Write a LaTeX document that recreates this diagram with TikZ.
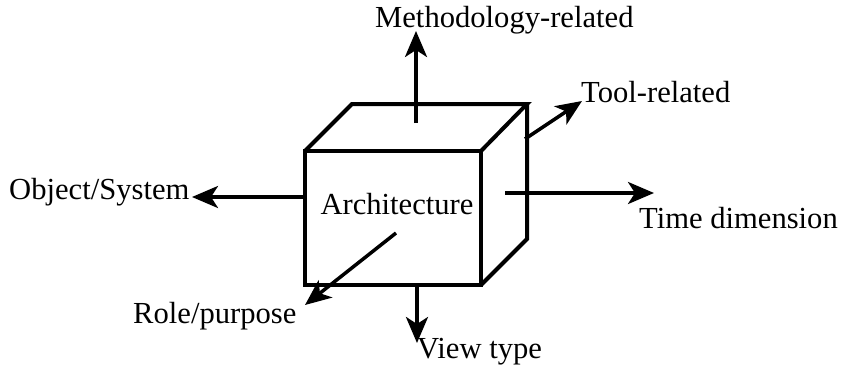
\documentclass[tikz,border=0pt]{standalone}
\usepackage{fontspec}
\setmainfont{Liberation Serif}
\usetikzlibrary{arrows.meta}
\begin{document}
\begin{tikzpicture}[x=1pt,y=-1pt,
  cube/.style={line width=4pt,line join=miter},
  axis/.style={line width=3.5pt,-{Stealth[length=26pt,width=22pt,inset=7pt]}},
  lbl/.style={inner sep=0pt,font=\fontsize{30.6}{36}\selectfont}]
\useasboundingbox (0,0) rectangle (843,375);
% cube
\coordinate (ftl) at (305,151);
\coordinate (ftr) at (481,151);
\coordinate (fbr) at (481,285);
\coordinate (fbl) at (305,285);
\coordinate (btl) at (352,104);
\coordinate (btr) at (527,104);
\coordinate (bbr) at (527,239);
\draw[cube] (ftl) -- (ftr) -- (fbr) -- (fbl) -- cycle;
\draw[cube] (ftl) -- (btl) -- (btr) -- (ftr);
\draw[cube] (btr) -- (bbr) -- (fbr);
\node[lbl,anchor=base] (arch) at (397,214) {Architecture};
% labels
\node[lbl,anchor=base west] (meth) at (375,27) {Methodology-related};
\node[lbl,anchor=base west] (tool) at (581,102) {Tool-related};
\node[lbl,anchor=base west] (obj) at (9,199) {Object/System};
\node[lbl,anchor=base east] (time) at (838,228) {Time dimension};
\node[lbl,anchor=base west] (role) at (133,323) {Role/purpose};
\node[lbl,anchor=base west] (view) at (417,358) {View type};
% arrow ends
\coordinate (ms) at (416,123);
\coordinate (me) at (416,31);
\coordinate (ts) at (525,139);
\coordinate (te) at (582,101);
\coordinate (os) at (305,197);
\coordinate (oe) at (192,197);
\coordinate (ds) at (505,193);
\coordinate (de) at (654,193);
\coordinate (rs) at (396,233);
\coordinate (re) at (305,305);
\coordinate (vs) at (417,285);
\coordinate (ve) at (417,343);
\draw[axis] (ms) -- (me);
\draw[axis] (ts) -- (te);
\draw[axis] (os) -- (oe);
\draw[axis] (ds) -- (de);
\draw[axis] (rs) -- (re);
\draw[axis] (vs) -- (ve);
\end{tikzpicture}
\end{document}
